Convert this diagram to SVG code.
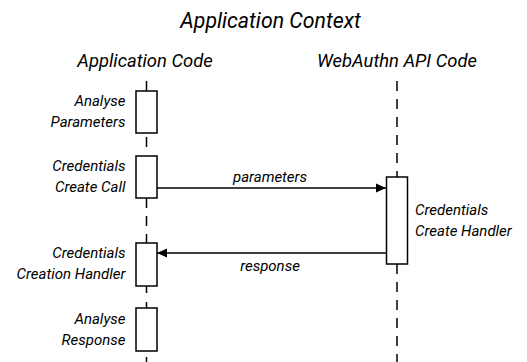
<svg xmlns="http://www.w3.org/2000/svg" width="527" height="362" viewBox="0 0 527 362">
  <style>
    text { font-family: Roboto, "Liberation Sans", sans-serif; font-style: italic; fill: #000; }
    .title { font-size: 21.3px; text-anchor: middle; }
    .head { font-size: 18.4px; text-anchor: middle; }
    .lbl { font-size: 15px; }
    .end { text-anchor: end; }
    .mid { text-anchor: middle; }
    .life { stroke: #000; stroke-width: 1.5; fill: none; }
    .dash { stroke-dasharray: 10 8; }
    .act { fill: #fff; stroke: #000; stroke-width: 1.5; }
    .msg { stroke: #000; stroke-width: 1.5; fill: none; }
  </style>
  <defs>
    <marker id="arrow" viewBox="0 0 10 10" refX="10" refY="5" markerWidth="10" markerHeight="10" markerUnits="userSpaceOnUse" orient="auto">
      <path d="M0,0.5 L10,5 L0,9.5 Z" fill="#000"/>
    </marker>
  </defs>

  <rect width="527" height="362" fill="#fff"/>

  <text class="title" x="270.5" y="27.5">Application Context</text>

  <!-- lifelines and messages -->
  <g id="connectors">
    <path class="life" d="M146.5 81 V91"/>
    <path class="life" d="M146.5 137 V147"/>
    <path class="life dash" d="M146.5 198 V243"/>
    <path class="life" d="M146.5 286 V293 M146.5 302 V308"/>
    <path class="life" d="M146.5 357 V362"/>
    <path class="life dash" d="M397 81 V177"/>
    <path class="life dash" d="M397 264 V362"/>
    <path class="msg" d="M157 188 H386" marker-end="url(#arrow)"/>
    <text class="lbl mid" x="270" y="182">parameters</text>
    <path class="msg" d="M386.5 253 H157" marker-end="url(#arrow)"/>
    <text class="lbl mid" x="270" y="271">response</text>
  </g>

  <g id="app-code">
    <text class="head" x="145" y="67">Application Code</text>
  </g>

  <g id="webauthn-code">
    <text class="head" x="397" y="67">WebAuthn API Code</text>
  </g>

  <g id="analyse-parameters">
    <rect class="act" x="136" y="91" width="21" height="42"/>
    <text class="lbl end" x="125.5" y="106">Analyse</text>
    <text class="lbl end" x="125.5" y="127">Parameters</text>
  </g>

  <g id="create-call">
    <rect class="act" x="136" y="156" width="21" height="42"/>
    <text class="lbl end" x="125.5" y="171">Credentials</text>
    <text class="lbl end" x="125.5" y="192">Create Call</text>
  </g>

  <g id="create-handler">
    <rect class="act" x="386.5" y="177" width="21" height="87"/>
    <text class="lbl" x="415" y="215">Credentials</text>
    <text class="lbl" x="415" y="236">Create Handler</text>
  </g>

  <g id="creation-handler">
    <rect class="act" x="136" y="243" width="21" height="43"/>
    <text class="lbl end" x="125.5" y="258">Credentials</text>
    <text class="lbl end" x="125.5" y="279">Creation Handler</text>
  </g>

  <g id="analyse-response">
    <rect class="act" x="136" y="308" width="21" height="43"/>
    <text class="lbl end" x="125.5" y="324">Analyse</text>
    <text class="lbl end" x="125.5" y="345">Response</text>
  </g>
</svg>
